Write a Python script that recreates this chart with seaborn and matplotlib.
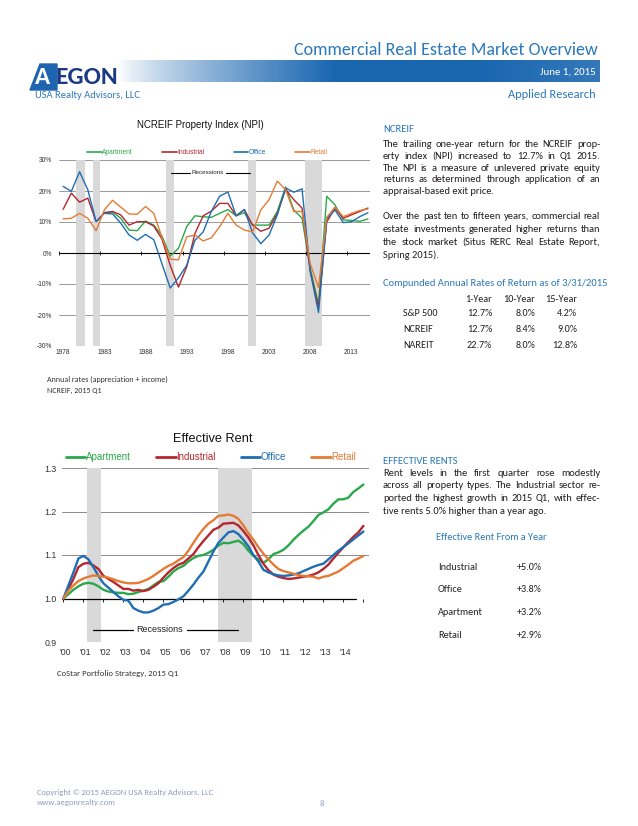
import numpy as np
import pandas as pd
import matplotlib
matplotlib.use("Agg")
import matplotlib.pyplot as plt
import matplotlib.font_manager as fm
from matplotlib.lines import Line2D
from matplotlib.patches import Polygon
import seaborn as sns

nan = np.nan

# NCREIF Property Index - annual total returns (%)
npi_years = list(range(1978, 2016))
npi_apartment = [nan, nan, nan, nan, nan,
                 13.0, 13.2, 11.2, 7.4, 7.2, 10.3, 9.0, 5.5, -1.0, 1.5,
                 8.5, 12.0, 11.7, 11.5, 12.8, 14.0, 12.0, 13.0, 9.0, 9.0,
                 9.0, 13.4, 21.3, 13.9, 11.2, -5.0, -16.5, 18.3, 15.5, 10.7,
                 10.5, 10.2, 11.0]
npi_industrial = [14.1, 19.3, 16.4, 17.7, 10.1, 13.0, 13.4, 12.3, 9.0, 10.1,
                  10.1, 8.7, 4.5, -4.0, -11.0, -4.5, 6.3, 12.0, 13.5, 16.0,
                  16.0, 12.0, 14.0, 9.0, 7.0, 8.0, 12.8, 20.5, 17.2, 14.5,
                  -6.0, -17.5, 10.0, 14.5, 11.2, 12.3, 13.4, 14.5]
npi_office = [21.5, 19.9, 26.2, 20.4, 10.1, 12.8, 12.6, 9.6, 5.8, 4.1,
              6.0, 4.3, -3.5, -11.3, -8.0, -4.0, 4.1, 6.8, 13.5, 18.3,
              19.7, 12.0, 14.0, 6.5, 3.0, 5.8, 12.3, 21.0, 19.6, 20.7,
              -6.0, -19.2, 11.0, 13.9, 9.8, 10.1, 11.7, 13.0]
npi_retail = [11.0, 11.2, 12.8, 11.2, 7.2, 13.9, 17.0, 14.8, 12.6, 12.5,
              15.0, 12.8, 5.0, -2.0, -2.2, 5.2, 5.8, 3.9, 4.9, 8.5,
              12.8, 9.0, 7.4, 6.8, 13.9, 17.2, 23.2, 20.4, 13.4, 13.4,
              -3.5, -11.1, 11.5, 14.8, 11.7, 12.8, 13.7, 14.2]
npi_rec_start = [1979.6, 1981.6, 1990.5, 2000.5, 2007.4]
npi_rec_end = [1980.6, 1982.5, 1991.5, 2001.4, 2009.4]
npi_ticks = [1978, 1983, 1988, 1993, 1998, 2003, 2008, 2013]
npi_yticks = [-30, -20, -10, 0, 10, 20, 30]

# Effective rent index, quarterly 2000Q1 - 2015Q1
rent_t = [2000 + q / 4 for q in range(61)]
rent_apartment = [1.000, 1.010, 1.020, 1.028, 1.034, 1.036, 1.034, 1.028,
                  1.020, 1.016, 1.014, 1.013, 1.013, 1.010, 1.011, 1.015,
                  1.018, 1.022, 1.030, 1.038, 1.040, 1.050, 1.062, 1.070,
                  1.075, 1.085, 1.093, 1.098, 1.100, 1.105, 1.112, 1.122,
                  1.128, 1.127, 1.130, 1.133, 1.125, 1.110, 1.098, 1.090,
                  1.082, 1.090, 1.102, 1.106, 1.112, 1.122, 1.135, 1.146,
                  1.156, 1.165, 1.178, 1.192, 1.198, 1.205, 1.218, 1.228,
                  1.228, 1.232, 1.245, 1.253, 1.262]
rent_industrial = [1.000, 1.022, 1.045, 1.072, 1.080, 1.082, 1.076, 1.068,
                   1.052, 1.045, 1.038, 1.030, 1.022, 1.022, 1.018, 1.020,
                   1.017, 1.020, 1.027, 1.035, 1.048, 1.060, 1.070, 1.078,
                   1.082, 1.092, 1.102, 1.118, 1.132, 1.145, 1.158, 1.163,
                   1.172, 1.173, 1.174, 1.168, 1.155, 1.140, 1.122, 1.100,
                   1.080, 1.065, 1.055, 1.050, 1.047, 1.045, 1.046, 1.048,
                   1.050, 1.052, 1.055, 1.060, 1.068, 1.078, 1.092, 1.105,
                   1.118, 1.130, 1.142, 1.152, 1.167]
rent_office = [1.000, 1.030, 1.060, 1.092, 1.098, 1.090, 1.072, 1.052,
               1.035, 1.025, 1.015, 1.005, 0.997, 0.995, 0.978, 0.972,
               0.968, 0.968, 0.972, 0.978, 0.986, 0.987, 0.992, 0.998,
               1.005, 1.018, 1.032, 1.048, 1.062, 1.085, 1.108, 1.128,
               1.140, 1.152, 1.155, 1.148, 1.135, 1.120, 1.100, 1.085,
               1.066, 1.060, 1.056, 1.053, 1.052, 1.053, 1.055, 1.058,
               1.063, 1.068, 1.073, 1.077, 1.080, 1.090, 1.100, 1.110,
               1.118, 1.127, 1.136, 1.145, 1.154]
rent_retail = [1.000, 1.018, 1.030, 1.040, 1.046, 1.050, 1.053, 1.052,
               1.050, 1.048, 1.044, 1.040, 1.037, 1.035, 1.035, 1.036,
               1.040, 1.045, 1.052, 1.060, 1.068, 1.075, 1.080, 1.088,
               1.095, 1.110, 1.128, 1.145, 1.160, 1.172, 1.180, 1.190,
               1.191, 1.193, 1.190, 1.183, 1.168, 1.150, 1.135, 1.118,
               1.103, 1.090, 1.078, 1.068, 1.063, 1.060, 1.057, 1.054,
               1.052, 1.051, 1.050, 1.046, 1.050, 1.052, 1.057, 1.062,
               1.070, 1.078, 1.087, 1.092, 1.098]
rent_rec_start = [2001.2, 2007.75]
rent_rec_end = [2001.9, 2009.45]
rent_years = list(range(2000, 2015))
rent_labels = ["'00", "'01", "'02", "'03", "'04", "'05", "'06", "'07",
               "'08", "'09", "'10", "'11", "'12", "'13", "'14"]
rent_yticks = [0.9, 1.0, 1.1, 1.2, 1.3]

# tables
ret_cols = ["1-Year", "10-Year", "15-Year"]
ret_rows = ["S&P 500", "NCREIF", "NAREIT"]
ret_vals = [["12.7%", "8.0%", "4.2%"],
            ["12.7%", "8.4%", "9.0%"],
            ["22.7%", "8.0%", "12.8%"]]
yoy_names = ["Industrial", "Office", "Apartment", "Retail"]
yoy_vals = ["+5.0%", "+3.8%", "+3.2%", "+2.9%"]

types = ["Apartment", "Industrial", "Office", "Retail"]
colors = {"Apartment": "#2aa84a", "Industrial": "#b5262e",
          "Office": "#1f6db3", "Retail": "#e47b35"}
BLUE = "#2b78bb"
INK = "#231f20"
SHADE = "#d9d9d9"

sns.set_style("white")
names = {f.name for f in fm.fontManager.ttflist}


def pick(*cands):
    for c in cands:
        if c in names:
            return c
    return "DejaVu Sans"


BODY = pick("Liberation Sans Narrow", "Carlito", "Lato", "Open Sans")
CHART = pick("Liberation Sans", "Arimo", "DejaVu Sans")
plt.rcParams["font.family"] = [CHART, "DejaVu Sans"]

W, H = 638, 826
fig = plt.figure(figsize=(W / 100, H / 100), dpi=100)
fig.patch.set_facecolor("white")
rend = fig.canvas.get_renderer()


def fx(x):
    return x / W


def fy(y):
    return 1 - y / H


def txt(x, y, s, **kw):
    kw.setdefault("va", "center")
    return fig.text(fx(x), fy(y), s, **kw)


def fit(s, width, family=BODY, **kw):
    # font size that makes s about `width` pixels wide
    t = txt(0, 0, s, fontsize=10, family=family, **kw)
    w = t.get_window_extent(rend).width
    t.remove()
    return 10 * width / w


def hline(x0, x1, y, lw=0.8, color="black"):
    fig.add_artist(Line2D([fx(x0), fx(x1)], [fy(y), fy(y)], lw=lw,
                          color=color, transform=fig.transFigure))


# ---------- header ----------
band = fig.add_axes([fx(118), fy(82), fx(600) - fx(118), fy(60) - fy(82)])
t = np.linspace(0, 1, 400)
a = np.clip(t / 0.45, 0, 1) ** 0.8
a = a - 0.12 * np.clip((t - 0.75) / 0.25, 0, 1)
c0 = np.array([1.0, 1.0, 1.0])
c1 = np.array([0.10, 0.40, 0.69])
grad = c0[None, :] * (1 - a[:, None]) + c1[None, :] * a[:, None]
band.imshow(grad[None, :, :], aspect="auto", extent=[0, 1, 0, 1])
band.axis("off")

s = "Commercial Real Estate Market Overview"
txt(598, 50, s, ha="right", fontsize=min(13, fit(s, 311)), color=BLUE,
    family=BODY)
s = "June 1, 2015"
txt(596, 72, s, ha="right", fontsize=fit(s, 56), color="white", family=BODY)
s = "Applied Research"
txt(596, 95, s, ha="right", fontsize=fit(s, 88), color=BLUE, family=BODY)
s = "USA Realty Advisors, LLC"
txt(35, 96, s, fontsize=fit(s, 105), color=BLUE, family=BODY)
fig.add_artist(Polygon([(fx(30), fy(90)), (fx(40), fy(64)), (fx(57), fy(64)),
                        (fx(57), fy(90))], closed=True, color="#1f64b0",
                       transform=fig.transFigure))
txt(43, 78, "A", fontsize=18, color="white", weight="bold", family=BODY,
    ha="center")
txt(55, 78, "EGON", fontsize=fit("EGON", 63, weight="bold"),
    color="#1b3a86", weight="bold", family=BODY)

# ---------- chart 1: NCREIF ----------
ax1 = fig.add_axes([fx(59), fy(346), fx(370) - fx(59), fy(160) - fy(346)])
npi = pd.DataFrame({"year": npi_years, "Apartment": npi_apartment,
                    "Industrial": npi_industrial, "Office": npi_office,
                    "Retail": npi_retail})
npi_long = npi.melt(id_vars="year", var_name="type", value_name="ret")
for s0, e0 in zip(npi_rec_start, npi_rec_end):
    ax1.axvspan(s0, e0, color=SHADE, lw=0, zorder=1)
for v in npi_yticks:
    if v != 0:
        ax1.axhline(v, color="#8a8a8a", lw=0.6, zorder=0.5)
ax1.axhline(0, color="black", lw=0.8, zorder=1.5)
ax1.vlines([y - 0.5 for y in npi_ticks], -0.6, 0.6, color="black", lw=0.6,
           zorder=1.5)
sns.lineplot(data=npi_long, x="year", y="ret", hue="type", hue_order=types,
             palette=colors, linewidth=1.0, legend=False, ax=ax1, zorder=2)
ax1.set_xlim(1977.5, 2015.25)
ax1.set_ylim(-30, 30)
ax1.set_xticks(npi_ticks)
ax1.set_xticklabels([str(y) for y in npi_ticks])
ax1.set_yticks(npi_yticks)
ax1.set_yticklabels([f"{v}%" for v in npi_yticks])
ax1.tick_params(length=0, labelsize=4.8, colors="#333333")
ax1.tick_params(axis="x", pad=2)
ax1.tick_params(axis="y", pad=5)
ax1.set_xlabel("")
ax1.set_ylabel("")
for sp in ax1.spines.values():
    sp.set_visible(False)
ax1.set_facecolor("none")

txt(200, 125, "NCREIF Property Index (NPI)", ha="center", fontsize=7,
    color="#111111")
h1 = [Line2D([], [], color=colors[k], lw=1.2) for k in types]
fig.legend(h1, types, loc="center", bbox_to_anchor=(fx(207), fy(153)),
           ncol=4, frameon=False, fontsize=4.8, labelcolor="linecolor",
           handlelength=2.2, handletextpad=0.05, columnspacing=4.4,
           borderpad=0)
txt(208, 173, "Recessions", ha="center", fontsize=4.5, color="#222222")
hline(171, 190, 173, lw=0.8)
hline(226, 250, 173, lw=0.8)
s = "Annual rates (appreciation + income)"
cap = fit(s, 121)
txt(47, 379, s, fontsize=cap, color="#333333", family=BODY)
txt(47, 390, "NCREIF, 2015 Q1", fontsize=cap, color="#333333", family=BODY)

# ---------- chart 2: Effective Rent ----------
ax2 = fig.add_axes([fx(62), fy(642), fx(369) - fx(62), fy(468) - fy(642)])
rent = pd.DataFrame({"t": rent_t, "Apartment": rent_apartment,
                     "Industrial": rent_industrial, "Office": rent_office,
                     "Retail": rent_retail})
rent_long = rent.melt(id_vars="t", var_name="type", value_name="idx")
for s0, e0 in zip(rent_rec_start, rent_rec_end):
    ax2.axvspan(s0, e0, color=SHADE, lw=0, zorder=1)
for v in rent_yticks:
    if v != 1.0:
        ax2.axhline(v, color="#8a8a8a", lw=0.7, zorder=0.5)
ax2.plot([1999.93, 2014.65], [1.0, 1.0], color="black", lw=0.9, zorder=1.5)
ax2.vlines(rent_years + [2015], 0.992, 1.0, color="black", lw=0.6,
           zorder=1.5)
sns.lineplot(data=rent_long, x="t", y="idx", hue="type", hue_order=types,
             palette=colors, linewidth=1.7, legend=False, ax=ax2, zorder=2)
ax2.set_xlim(1999.93, 2015.28)
ax2.set_ylim(0.9, 1.3)
ax2.set_xticks([y + 0.08 for y in rent_years])
ax2.set_xticklabels(rent_labels)
ax2.set_yticks(rent_yticks)
ax2.set_yticklabels([f"{v:.1f}" for v in rent_yticks])
ax2.tick_params(length=0, labelsize=6.3, colors="#333333")
ax2.tick_params(axis="x", pad=4)
ax2.tick_params(axis="y", pad=4)
ax2.set_xlabel("")
ax2.set_ylabel("")
for sp in ax2.spines.values():
    sp.set_visible(False)
ax2.set_facecolor("none")

txt(213, 439, "Effective Rent", ha="center",
    fontsize=fit("Effective Rent", 80, family=CHART), color="#111111")
h2 = [Line2D([], [], color=colors[k], lw=2.0) for k in types]
fig.legend(h2, types, loc="center", bbox_to_anchor=(fx(211), fy(457)),
           ncol=4, frameon=False, fontsize=7, labelcolor="linecolor",
           handlelength=2.0, handletextpad=0.05, columnspacing=2.6,
           borderpad=0)
txt(160, 630, "Recessions", ha="center", fontsize=6.5, color="#222222")
hline(93, 133, 630, lw=0.9)
hline(187, 238, 630, lw=0.9)
s = "CoStar Portfolio Strategy, 2015 Q1"
txt(57, 673, s, fontsize=fit(s, 121), color="#333333", family=BODY)

# ---------- right column text ----------
para1 = ["The trailing one-year return for the NCREIF prop-",
         "erty index (NPI) increased to 12.7% in Q1 2015.",
         "The NPI is a measure of unlevered private equity",
         "returns as determined through application of an",
         "appraisal-based exit price."]
para2 = ["Over the past ten to fifteen years, commercial real",
         "estate investments generated higher returns than",
         "the stock market (Situs RERC Real Estate Report,",
         "Spring 2015)."]
para3 = ["Rent levels in the first quarter rose modestly",
         "across all property types. The Industrial sector re-",
         "ported the highest growth in 2015 Q1, with effec-",
         "tive rents 5.0% higher than a year ago."]

X0, X1 = 383, 600
BS = min(8.3, (X1 - X0 - 3) * min(fit(ln, 1) for p in (para1, para2, para3)
                                  for ln in p[:-1]))


def justified(lines, y0, step):
    for i, ln in enumerate(lines):
        y = y0 + i * step
        if i == len(lines) - 1:
            txt(X0, y, ln, fontsize=BS, family=BODY, color=INK)
            continue
        words = ln.split()
        ts = [txt(X0, y, w, fontsize=BS, family=BODY, color=INK)
              for w in words]
        ws = [tt.get_window_extent(rend).width for tt in ts]
        gap = (X1 - X0 - sum(ws)) / (len(ws) - 1)
        x = X0
        for tt, w in zip(ts, ws):
            tt.set_x(fx(x))
            x += w + gap


head = fit("EFFECTIVE RENTS", 75)
txt(X0, 130, "NCREIF", fontsize=head, color=BLUE, family=BODY)
justified(para1, 144.3, 11.9)
justified(para2, 216.7, 12.8)

s = "Compunded Annual Rates of Return as of 3/31/2015"
txt(X0, 284, s, fontsize=fit(s, 224), color=BLUE, family=BODY)
tab = 0.97 * BS
col_right = [492, 535, 577]
for c, xr in zip(ret_cols, col_right):
    txt(xr, 299, c, ha="right", fontsize=tab, family=BODY, color=INK)
for r, (name, vals) in enumerate(zip(ret_rows, ret_vals)):
    y = 314 + r * 15.7
    txt(403, y, name, fontsize=tab, family=BODY, color=INK)
    for v, xr in zip(vals, col_right):
        txt(xr, y, v, ha="right", fontsize=tab, family=BODY, color=INK)

txt(X0, 461, "EFFECTIVE RENTS", fontsize=head, color=BLUE, family=BODY)
justified(para3, 473.3, 12.6)
s = "Effective Rent From a Year"
txt(491, 538, s, ha="center", fontsize=fit(s, 111), color=BLUE, family=BODY)
tab2 = 0.97 * BS
for i, (n, v) in enumerate(zip(yoy_names, yoy_vals)):
    y = 567.3 + i * 22.6
    txt(438, y, n, fontsize=tab2, family=BODY, color=INK)
    txt(542, y, v, ha="right", fontsize=tab2, family=BODY, color=INK)

# ---------- footer ----------
FOOT = "#8d9cc2"
s = "Copyright \u00a9 2015 AEGON USA Realty Advisors, LLC"
foot = fit(s, 175)
txt(37, 792, s, fontsize=foot, color=FOOT, family=BODY)
txt(37, 803, "www.aegonrealty.com", fontsize=foot, color=FOOT, family=BODY)
txt(320, 804, "8", fontsize=foot, color=FOOT, family=BODY)

fig.savefig("out.png", dpi=100, facecolor="white")
